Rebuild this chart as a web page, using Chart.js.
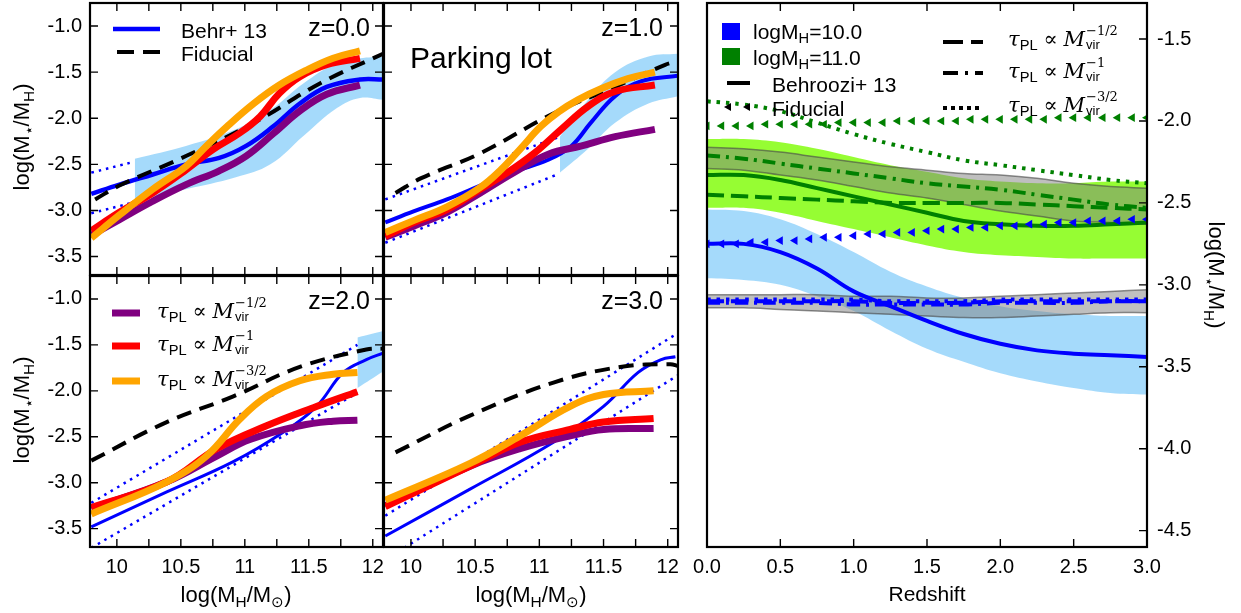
<!DOCTYPE html>
<html>
<head>
<meta charset="utf-8">
<script src="https://cdn.jsdelivr.net/npm/chart.js@4.4.0/dist/chart.umd.min.js"></script>
<style>
  body { margin: 0; background: #fff; width: 1241px; height: 613px; overflow: hidden; position: relative;
         font-family: "Liberation Sans", Arial, sans-serif; }
  canvas { position: absolute; left: 0; top: 0; }
  .t { position: absolute; white-space: nowrap; line-height: 1; color: #000; }
  .mi { font-family: "DejaVu Serif", serif; font-style: italic; }
  .sb { font-size: 0.7em; position: relative; top: 0.3em; }
  .ss { display: inline-block; vertical-align: middle; font-size: 0.62em; line-height: 1.05; margin-left: 1px; position: relative; top: -0.15em; }
  .ss span { display: block; }
  .sp { font-family: "DejaVu Serif", serif; }
</style>
</head>
<body>
<canvas id="p1" width="1241" height="613"></canvas>
<canvas id="p2" width="1241" height="613"></canvas>
<canvas id="p3" width="1241" height="613"></canvas>
<canvas id="p4" width="1241" height="613"></canvas>
<canvas id="pr" width="1241" height="613"></canvas>

<svg width="1241" height="613" style="position:absolute;left:0;top:0">
  <!-- legend samples -->
  <line x1="113" y1="29" x2="160" y2="29" stroke="#0000ff" stroke-width="4.5"/>
  <line x1="117" y1="52" x2="160" y2="52" stroke="#000" stroke-width="4" stroke-dasharray="17 9"/>
  <line x1="112" y1="313" x2="140" y2="313" stroke="#800080" stroke-width="7"/>
  <line x1="112" y1="346" x2="140" y2="346" stroke="#ff0000" stroke-width="7"/>
  <line x1="112" y1="381" x2="140" y2="381" stroke="#ffa500" stroke-width="7"/>
  <rect x="722" y="23" width="18" height="17" fill="#0000ff"/>
  <rect x="722" y="48" width="18" height="17" fill="#008000"/>
  <line x1="727" y1="83" x2="750" y2="83" stroke="#000" stroke-width="4"/>
  <polygon points="724,107 731,103 731,111" fill="#000"/>
  <polygon points="743,107 750,103 750,111" fill="#000"/>
  <line x1="943" y1="42" x2="983" y2="42" stroke="#000" stroke-width="4" stroke-dasharray="20 8"/>
  <line x1="943" y1="73" x2="983" y2="73" stroke="#000" stroke-width="4" stroke-dasharray="15 7 3 7"/>
  <line x1="943" y1="108" x2="983" y2="108" stroke="#000" stroke-width="4" stroke-dasharray="4 4"/>
</svg>

<div class="t" style="left:370px;top:27px;font-size:25px;transform:translate(-100%,-50%)">z=0.0</div>
<div class="t" style="left:663px;top:27px;font-size:25px;transform:translate(-100%,-50%)">z=1.0</div>
<div class="t" style="left:370px;top:300px;font-size:25px;transform:translate(-100%,-50%)">z=2.0</div>
<div class="t" style="left:663px;top:300px;font-size:25px;transform:translate(-100%,-50%)">z=3.0</div>
<div class="t" style="left:410px;top:58px;font-size:30px;transform:translateY(-50%)">Parking lot</div>

<div class="t" style="left:181px;top:30px;font-size:21px;transform:translateY(-50%)">Behr+ 13</div>
<div class="t" style="left:181px;top:53px;font-size:21px;transform:translateY(-50%)">Fiducial</div>

<div class="t" style="left:157px;top:312px;font-size:21px;transform:translateY(-50%)"><span class="mi">τ</span><span class="sb">PL</span> <span class="sp">∝</span> <span class="mi">M</span><span class="ss"><span class="sp">−1/2</span><span>vir</span></span></div>
<div class="t" style="left:157px;top:345px;font-size:21px;transform:translateY(-50%)"><span class="mi">τ</span><span class="sb">PL</span> <span class="sp">∝</span> <span class="mi">M</span><span class="ss"><span class="sp">−1</span><span>vir</span></span></div>
<div class="t" style="left:157px;top:380px;font-size:21px;transform:translateY(-50%)"><span class="mi">τ</span><span class="sb">PL</span> <span class="sp">∝</span> <span class="mi">M</span><span class="ss"><span class="sp">−3/2</span><span>vir</span></span></div>

<div class="t" style="left:753px;top:31px;font-size:21px;transform:translateY(-50%)">logM<span class="sb">H</span>=10.0</div>
<div class="t" style="left:753px;top:57px;font-size:21px;transform:translateY(-50%)">logM<span class="sb">H</span>=11.0</div>
<div class="t" style="left:772px;top:84px;font-size:21px;transform:translateY(-50%)">Behroozi+ 13</div>
<div class="t" style="left:772px;top:108px;font-size:21px;transform:translateY(-50%)">Fiducial</div>
<div class="t" style="left:1008px;top:40px;font-size:21px;transform:translateY(-50%)"><span class="mi">τ</span><span class="sb">PL</span> <span class="sp">∝</span> <span class="mi">M</span><span class="ss"><span class="sp">−1/2</span><span>vir</span></span></div>
<div class="t" style="left:1008px;top:72px;font-size:21px;transform:translateY(-50%)"><span class="mi">τ</span><span class="sb">PL</span> <span class="sp">∝</span> <span class="mi">M</span><span class="ss"><span class="sp">−1</span><span>vir</span></span></div>
<div class="t" style="left:1008px;top:106px;font-size:21px;transform:translateY(-50%)"><span class="mi">τ</span><span class="sb">PL</span> <span class="sp">∝</span> <span class="mi">M</span><span class="ss"><span class="sp">−3/2</span><span>vir</span></span></div>

<div class="t" style="left:22px;top:137px;font-size:22px;transform:translate(-50%,-50%) rotate(-90deg)">log(M<span class="sb">⋆</span>/M<span class="sb">H</span>)</div>
<div class="t" style="left:22px;top:410px;font-size:22px;transform:translate(-50%,-50%) rotate(-90deg)">log(M<span class="sb">⋆</span>/M<span class="sb">H</span>)</div>
<div class="t" style="left:1216px;top:275px;font-size:22px;transform:translate(-50%,-50%) rotate(90deg)">log(M<span class="sb">⋆</span>/M<span class="sb">H</span>)</div>
<div class="t" style="left:236px;top:595px;font-size:22px;transform:translate(-50%,-50%)">log(M<span class="sb">H</span>/M<span class="sb">⊙</span>)</div>
<div class="t" style="left:531px;top:595px;font-size:22px;transform:translate(-50%,-50%)">log(M<span class="sb">H</span>/M<span class="sb">⊙</span>)</div>
<div class="t" style="left:927px;top:593px;font-size:21px;transform:translate(-50%,-50%)">Redshift</div>

<script>
// ---- z = 0.0 ----
const z0BehrX = [9.8, 10.02, 10.28, 10.54, 10.80, 11.01, 11.22, 11.43, 11.64, 11.90, 12.08];
const z0BehrY = [-2.82, -2.72, -2.61, -2.50, -2.43, -2.30, -2.09, -1.84, -1.66, -1.58, -1.58];
const z0BandX = [10.14, 10.54, 10.93, 11.20, 11.46, 11.72, 11.90, 12.08];
const z0BandHi = [-2.44, -2.30, -2.12, -1.91, -1.62, -1.40, -1.35, -1.33];
const z0BandLo = [-2.90, -2.77, -2.64, -2.50, -2.19, -1.89, -1.78, -1.80];
const z0DotX = [9.8, 10.14];
const z0DotHi = [-2.59, -2.47];
const z0DotLo = [-3.03, -2.91];
const z0FidX = [9.83, 10.02, 10.54, 11.07, 11.59, 12.08];
const z0FidY = [-2.88, -2.73, -2.41, -2.05, -1.62, -1.30];
const z0PurX = [9.8, 10.02, 10.28, 10.54, 10.80, 11.01, 11.22, 11.43, 11.64, 11.90];
const z0PurY = [-3.27, -3.10, -2.90, -2.72, -2.57, -2.41, -2.17, -1.92, -1.74, -1.64];
const z0RedX = [9.8, 10.02, 10.28, 10.54, 10.75, 10.96, 11.12, 11.27, 11.43, 11.64, 11.90];
const z0RedY = [-3.22, -3.02, -2.81, -2.56, -2.34, -2.16, -1.98, -1.73, -1.55, -1.42, -1.35];
const z0OrgX = [9.8, 10.02, 10.28, 10.54, 10.70, 10.86, 11.07, 11.27, 11.48, 11.69, 11.90];
const z0OrgY = [-3.30, -3.05, -2.77, -2.52, -2.30, -2.09, -1.84, -1.64, -1.48, -1.35, -1.27];

// ---- z = 1.0 ----
const z1BehrX = [9.8, 10.02, 10.28, 10.54, 10.80, 11.07, 11.25, 11.40, 11.59, 11.79, 12.08];
const z1BehrY = [-3.13, -3.01, -2.88, -2.73, -2.58, -2.45, -2.30, -2.05, -1.76, -1.60, -1.54];
const z1BandX = [11.16, 11.38, 11.59, 11.85, 12.08];
const z1BandHi = [-2.20, -1.80, -1.50, -1.33, -1.30];
const z1BandLo = [-2.59, -2.33, -2.05, -1.84, -1.76];
const z1DotX = [9.8, 11.14];
const z1DotHi = [-2.88, -2.21];
const z1DotLo = [-3.35, -2.61];
const z1FidX = [9.88, 10.08, 10.54, 11.12, 11.59, 11.98, 12.08];
const z1FidY = [-2.81, -2.65, -2.38, -1.94, -1.66, -1.42, -1.38];
const z1PurX = [9.8, 10.02, 10.28, 10.54, 10.80, 11.07, 11.33, 11.59, 11.90];
const z1PurY = [-3.29, -3.17, -3.02, -2.81, -2.59, -2.39, -2.30, -2.20, -2.12];
const z1RedX = [9.8, 10.02, 10.28, 10.54, 10.75, 10.96, 11.17, 11.38, 11.59, 11.90];
const z1RedY = [-3.28, -3.13, -2.99, -2.77, -2.59, -2.38, -2.12, -1.87, -1.71, -1.64];
const z1OrgX = [9.8, 10.02, 10.28, 10.54, 10.70, 10.86, 11.01, 11.15, 11.30, 11.48, 11.69, 11.90];
const z1OrgY = [-3.24, -3.11, -2.96, -2.75, -2.56, -2.32, -2.09, -1.93, -1.80, -1.68, -1.57, -1.50];

// ---- z = 2.0 ----
const z2BehrX = [9.8, 10.39, 10.91, 11.3, 11.56, 11.77, 11.95, 12.08];
const z2BehrY = [-3.48, -3.10, -2.77, -2.45, -2.17, -1.80, -1.66, -1.59];
const z2BandX = [11.88, 12.08];
const z2BandHi = [-1.42, -1.35];
const z2BandLo = [-1.97, -1.79];
const z2DotX = [9.8, 11.88];
const z2DotHi = [-3.22, -1.50];
const z2DotLo = [-3.71, -2.02];
const z2FidX = [9.8, 10.39, 10.91, 11.43, 11.95, 12.08];
const z2FidY = [-2.76, -2.34, -2.06, -1.74, -1.55, -1.54];
const z2PurX = [9.8, 10.39, 10.78, 11.04, 11.43, 11.69, 11.88];
const z2PurY = [-3.28, -2.99, -2.71, -2.53, -2.38, -2.33, -2.32];
const z2RedX = [9.8, 10.39, 10.78, 11.17, 11.56, 11.88];
const z2RedY = [-3.27, -2.99, -2.63, -2.38, -2.17, -2.01];
const z2OrgX = [9.8, 10.39, 10.7, 10.96, 11.17, 11.43, 11.69, 11.88];
const z2OrgY = [-3.34, -2.99, -2.71, -2.31, -2.06, -1.89, -1.82, -1.80];

// ---- z = 3.0 ----
const z3BehrX = [9.8, 10.46, 11.11, 11.5, 11.77, 11.95, 12.06];
const z3BehrY = [-3.58, -3.07, -2.56, -2.17, -1.80, -1.66, -1.63];
const z3DotX = [9.8, 12.08];
const z3DotHi = [-3.36, -1.37];
const z3DotLo = [-3.84, -1.83];
const z3FidX = [9.88, 10.46, 11.11, 11.63, 12.02, 12.08];
const z3FidY = [-2.67, -2.27, -1.91, -1.74, -1.71, -1.73];
const z3MidX = [9.8, 10.46, 10.85, 11.24, 11.5, 11.89];
const z3PurY = [-3.25, -2.82, -2.63, -2.49, -2.42, -2.41];
const z3RedY = [-3.26, -2.82, -2.56, -2.42, -2.34, -2.30];
const z3OrgY = [-3.19, -2.79, -2.49, -2.17, -2.04, -2.00];

// ---- redshift panel ----
const zGrid = [0, 0.25, 0.5, 0.75, 1.0, 1.25, 1.5, 1.75, 2.0, 2.25, 2.5, 2.75, 3.0];
const g11Behr   = [-2.33, -2.33, -2.36, -2.41, -2.46, -2.51, -2.56, -2.61, -2.63, -2.64, -2.64, -2.63, -2.62];
const g11BandHi = [-2.11, -2.11, -2.13, -2.17, -2.22, -2.27, -2.31, -2.35, -2.37, -2.38, -2.38, -2.37, -2.37];
const g11BandLo = [-2.53, -2.53, -2.56, -2.61, -2.66, -2.71, -2.76, -2.80, -2.82, -2.83, -2.84, -2.84, -2.84];
const g11Half   = [-2.45, -2.46, -2.47, -2.48, -2.49, -2.50, -2.50, -2.50, -2.50, -2.51, -2.52, -2.53, -2.54];
const g11One    = [-2.21, -2.23, -2.26, -2.29, -2.32, -2.35, -2.38, -2.40, -2.42, -2.45, -2.48, -2.51, -2.53];
const g11OneHi  = [-2.16, -2.17, -2.19, -2.22, -2.25, -2.28, -2.30, -2.32, -2.33, -2.35, -2.38, -2.40, -2.41];
const g11OneLo  = [-2.29, -2.30, -2.33, -2.36, -2.40, -2.44, -2.47, -2.51, -2.55, -2.58, -2.61, -2.62, -2.63];
const g11Three  = [-1.88, -1.90, -1.94, -2.01, -2.08, -2.14, -2.19, -2.24, -2.27, -2.30, -2.33, -2.36, -2.38];
const b10Behr   = [-2.75, -2.75, -2.80, -2.90, -3.04, -3.13, -3.22, -3.30, -3.36, -3.40, -3.42, -3.43, -3.44];
const b10BandHi = [-2.54, -2.55, -2.60, -2.69, -2.80, -2.92, -3.01, -3.08, -3.13, -3.16, -3.18, -3.19, -3.19];
const b10BandLo = [-2.96, -2.97, -3.00, -3.07, -3.16, -3.28, -3.39, -3.47, -3.54, -3.59, -3.63, -3.66, -3.67];
const b10Half   = [-3.10, -3.10, -3.10, -3.10, -3.10, -3.11, -3.11, -3.11, -3.10, -3.10, -3.10, -3.10, -3.10];
const b10One    = [-3.11, -3.11, -3.11, -3.11, -3.12, -3.12, -3.12, -3.12, -3.11, -3.11, -3.11, -3.10, -3.10];
const b10OneHi  = [-3.06, -3.06, -3.06, -3.06, -3.07, -3.07, -3.08, -3.08, -3.07, -3.06, -3.05, -3.04, -3.03];
const b10OneLo  = [-3.14, -3.14, -3.15, -3.16, -3.17, -3.18, -3.19, -3.20, -3.20, -3.19, -3.18, -3.17, -3.17];
const b10Three  = [-3.09, -3.09, -3.09, -3.09, -3.09, -3.10, -3.10, -3.10, -3.09, -3.09, -3.09, -3.09, -3.09];

// fiducial markers
const zTri = [0.0, 0.1, 0.2, 0.3, 0.4, 0.5, 0.6, 0.7, 0.8, 0.9, 1.0, 1.1, 1.2, 1.3, 1.4, 1.5,
              1.6, 1.7, 1.8, 1.9, 2.0, 2.1, 2.2, 2.3, 2.4, 2.5, 2.6, 2.7, 2.8, 2.9, 3.0];
const g11Fid = [-2.03, -2.03, -2.03, -2.03, -2.02, -2.02, -2.02, -2.02, -2.02, -2.01, -2.01, -2.01, -2.01, -2.00, -2.00, -2.00,
                -2.00, -2.00, -1.99, -1.99, -1.99, -1.99, -1.99, -1.99, -1.98, -1.98, -1.98, -1.98, -1.98, -1.98, -1.98];
const b10Fid = [-2.75, -2.75, -2.75, -2.74, -2.74, -2.73, -2.73, -2.72, -2.71, -2.71, -2.70, -2.69, -2.69, -2.68, -2.68, -2.67,
                -2.66, -2.66, -2.65, -2.65, -2.64, -2.64, -2.63, -2.63, -2.62, -2.62, -2.61, -2.61, -2.61, -2.60, -2.60];

// ticks
const mhTicks = [10, 10.25, 10.5, 10.75, 11, 11.25, 11.5, 11.75, 12];
const ratioTicks = [-3.5, -3.0, -2.5, -2.0, -1.5, -1.0];
const zTicks = [0, 0.5, 1.0, 1.5, 2.0, 2.5, 3.0];
const rightTicks = [-4.5, -4.0, -3.5, -3.0, -2.5, -2.0, -1.5];

const W = 1241, H = 613;
const FONT = 'Liberation Sans';
const BLUE = '#0000ff', GREEN = '#008000', PURPLE = '#800080', RED = '#ff0000', ORANGE = '#ffa500';
const SKY = 'rgba(135,206,250,0.75)';
const LIME = 'rgba(124,252,0,0.8)';
const GRAY = 'rgba(128,128,128,0.5)';
const EDGE = 'rgba(70,70,70,0.6)';

function pts(xs, ys) {
    return xs.map((x, i) => ({ x: x, y: ys[i] }));
}

function line(xs, ys, color, width, dash) {
    return { data: pts(xs, ys), borderColor: color, borderWidth: width, borderDash: dash || [],
             fill: false, tension: 0.4, pointRadius: 0 };
}

// upper edge of a band, filled down to the next dataset
function bandTop(xs, ys, color, edge) {
    return { data: pts(xs, ys), borderColor: edge || 'transparent', borderWidth: edge ? 1.5 : 0,
             backgroundColor: color, fill: '+1', tension: 0.4, pointRadius: 0 };
}

function bandBottom(xs, ys, edge) {
    return { data: pts(xs, ys), borderColor: edge || 'transparent', borderWidth: edge ? 1.5 : 0,
             fill: false, tension: 0.4, pointRadius: 0 };
}

function tri(xs, ys, color) {
    return { data: pts(xs, ys), showLine: false, pointStyle: 'triangle', pointRotation: -90,
             pointRadius: 5, pointBackgroundColor: color, pointBorderColor: color, pointBorderWidth: 0 };
}

// box frame + inward ticks
const frameTicks = {
    id: 'frameTicks',
    afterDatasetsDraw(chart, args, o) {
        const ctx = chart.ctx, a = chart.chartArea;
        const xs = chart.scales.x, ys = chart.scales.y;
        const len = 8;
        ctx.save();
        ctx.strokeStyle = '#000';
        ctx.lineWidth = 1.4;
        ctx.beginPath();
        xs.ticks.forEach(t => {
            const p = xs.getPixelForValue(t.value);
            ctx.moveTo(p, a.bottom); ctx.lineTo(p, a.bottom - len);
            ctx.moveTo(p, a.top); ctx.lineTo(p, a.top + len);
        });
        ys.ticks.forEach(t => {
            const p = ys.getPixelForValue(t.value);
            if (o.left) { ctx.moveTo(a.left, p); ctx.lineTo(a.left + len, p); }
            if (o.right) { ctx.moveTo(a.right, p); ctx.lineTo(a.right - len, p); }
        });
        ctx.stroke();
        ctx.lineWidth = 2.2;
        ctx.strokeRect(a.left, a.top, a.right - a.left, a.bottom - a.top);
        ctx.restore();
    }
};

function zeroPad(s) {
    s.paddingLeft = 0; s.paddingRight = 0; s.paddingTop = 0; s.paddingBottom = 0;
}

function makePanel(id, area, cfg, datasets) {
    const yRight = !!cfg.yRight;
    datasets.forEach((d, i) => { d.order = datasets.length - i; d.clip = 0; });
    new Chart(document.getElementById(id), {
        type: 'line',
        data: { datasets: datasets },
        options: {
            responsive: false,
            animation: false,
            devicePixelRatio: 1,
            layout: {
                autoPadding: false,
                padding: { left: yRight ? area.l : 0, right: yRight ? 0 : W - area.r, top: area.t, bottom: 0 }
            },
            elements: { point: { radius: 0, hoverRadius: 0, hitRadius: 0 } },
            scales: {
                x: {
                    type: 'linear', position: 'bottom', min: cfg.xr[0], max: cfg.xr[1],
                    grid: { display: false, drawTicks: false }, border: { display: false },
                    afterBuildTicks: s => { s.ticks = cfg.xt.map(v => ({ value: v })); },
                    afterFit: s => { s.height = H - area.b; zeroPad(s); },
                    ticks: { display: !!cfg.xLab, autoSkip: false, maxRotation: 0, minRotation: 0, padding: 8,
                             color: '#000', font: { family: FONT, size: 20 }, callback: cfg.xFmt }
                },
                y: {
                    type: 'linear', position: yRight ? 'right' : 'left', min: cfg.yr[0], max: cfg.yr[1],
                    grid: { display: false, drawTicks: false }, border: { display: false },
                    afterBuildTicks: s => { s.ticks = cfg.yt.map(v => ({ value: v })); },
                    afterFit: s => { s.width = yRight ? W - area.r : area.l; zeroPad(s); },
                    ticks: { display: !!cfg.yLab, autoSkip: false, padding: yRight ? 10 : 8,
                             color: '#000', font: { family: FONT, size: 20 }, callback: v => v.toFixed(1) }
                }
            },
            plugins: {
                legend: { display: false },
                tooltip: { enabled: false },
                frameTicks: { left: !yRight, right: true }
            }
        },
        plugins: [frameTicks]
    });
}

const mhFmt = v => (Math.abs(v * 2 - Math.round(v * 2)) < 1e-6 ? String(v) : '');
const small = (xLab, yLab) => ({ xr: [9.79, 12.08], yr: [-3.7, -0.75], xt: mhTicks, yt: ratioTicks,
                                 xLab: xLab, yLab: yLab, xFmt: mhFmt });

const DASH = [15, 9], DOT = [2.5, 5];

makePanel('p1', { l: 90, t: 3, r: 383, b: 275 }, small(false, true), [
    bandTop(z0BandX, z0BandHi, SKY), bandBottom(z0BandX, z0BandLo),
    line(z0DotX, z0DotHi, BLUE, 2.5, DOT), line(z0DotX, z0DotLo, BLUE, 2.5, DOT),
    line(z0BehrX, z0BehrY, BLUE, 4.5),
    line(z0FidX, z0FidY, '#000', 4, DASH),
    line(z0PurX, z0PurY, PURPLE, 7), line(z0RedX, z0RedY, RED, 7), line(z0OrgX, z0OrgY, ORANGE, 7)
]);

makePanel('p2', { l: 384, t: 3, r: 678, b: 275 }, small(false, false), [
    bandTop(z1BandX, z1BandHi, SKY), bandBottom(z1BandX, z1BandLo),
    line(z1DotX, z1DotHi, BLUE, 2.5, DOT), line(z1DotX, z1DotLo, BLUE, 2.5, DOT),
    line(z1BehrX, z1BehrY, BLUE, 4),
    line(z1FidX, z1FidY, '#000', 4, DASH),
    line(z1PurX, z1PurY, PURPLE, 7), line(z1RedX, z1RedY, RED, 7), line(z1OrgX, z1OrgY, ORANGE, 7)
]);

makePanel('p3', { l: 90, t: 276, r: 383, b: 547 }, small(true, true), [
    bandTop(z2BandX, z2BandHi, SKY), bandBottom(z2BandX, z2BandLo),
    line(z2DotX, z2DotHi, BLUE, 2.5, DOT), line(z2DotX, z2DotLo, BLUE, 2.5, DOT),
    line(z2BehrX, z2BehrY, BLUE, 3),
    line(z2FidX, z2FidY, '#000', 4, DASH),
    line(z2PurX, z2PurY, PURPLE, 7), line(z2RedX, z2RedY, RED, 7), line(z2OrgX, z2OrgY, ORANGE, 7)
]);

makePanel('p4', { l: 384, t: 276, r: 678, b: 547 }, small(true, false), [
    line(z3DotX, z3DotHi, BLUE, 2.5, DOT), line(z3DotX, z3DotLo, BLUE, 2.5, DOT),
    line(z3BehrX, z3BehrY, BLUE, 3),
    line(z3FidX, z3FidY, '#000', 4, DASH),
    line(z3MidX, z3PurY, PURPLE, 7), line(z3MidX, z3RedY, RED, 7), line(z3MidX, z3OrgY, ORANGE, 7)
]);

makePanel('pr', { l: 707, t: 3, r: 1147, b: 547 },
    { xr: [0, 3], yr: [-4.6, -1.28], xt: zTicks, yt: rightTicks, xLab: true, yLab: true, yRight: true,
      xFmt: v => v.toFixed(1) }, [
    bandTop(zGrid, b10BandHi, SKY), bandBottom(zGrid, b10BandLo),
    bandTop(zGrid, g11BandHi, LIME), bandBottom(zGrid, g11BandLo),
    bandTop(zGrid, g11OneHi, GRAY, EDGE), bandBottom(zGrid, g11OneLo, EDGE),
    bandTop(zGrid, b10OneHi, GRAY, EDGE), bandBottom(zGrid, b10OneLo, EDGE),
    line(zGrid, b10Behr, BLUE, 4), line(zGrid, g11Behr, GREEN, 4),
    line(zGrid, g11Half, GREEN, 4, [17, 7]), line(zGrid, g11One, GREEN, 4, [13, 6, 3, 6]),
    line(zGrid, g11Three, GREEN, 4, [3.5, 6]),
    line(zGrid, b10Half, BLUE, 4, [17, 7]), line(zGrid, b10One, BLUE, 4, [13, 6, 3, 6]),
    line(zGrid, b10Three, BLUE, 4, [3.5, 6]),
    tri(zTri, g11Fid, GREEN), tri(zTri, b10Fid, BLUE)
]);
</script>
</body>
</html>
